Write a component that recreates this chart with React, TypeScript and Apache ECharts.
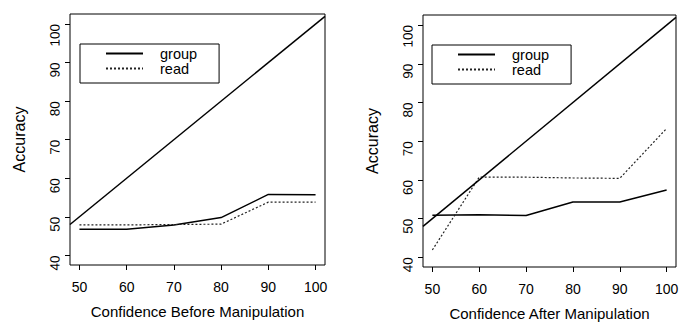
import React, { useEffect, useRef } from "react";
import * as echarts from "echarts";

const confidence = [50, 60, 70, 80, 90, 100];
const beforeGroup = [46.8, 46.8, 47.9, 49.8, 55.8, 55.7];
const beforeRead = [47.9, 47.9, 48.0, 48.1, 53.8, 53.8];
const afterGroup = [50.9, 51.0, 50.8, 54.3, 54.3, 57.4];
const afterRead = [41.9, 60.7, 60.7, 60.5, 60.4, 73.3];
const xTicks = [50, 60, 70, 80, 90, 100];
const yTicks = [40, 50, 60, 70, 80, 90, 100];
const xRange = [48, 102];
const yRange = [37.5, 102.6];
const xTitles = ["Confidence Before Manipulation", "Confidence After Manipulation"];
const yTitle = "Accuracy";
const seriesNames = ["group", "read"];

const FONT = '"Liberation Sans", Arial, Helvetica, sans-serif';

export default function App() {
  const ref = useRef<HTMLDivElement>(null);
  useEffect(() => {
    if (!ref.current) return;
    const chart = echarts.init(ref.current, null, { renderer: "svg" });
    const grids = [
      { left: 70, top: 14, width: 255, height: 251 },
      { left: 423, top: 15, width: 253, height: 252 },
    ];
    const panels = [
      { group: beforeGroup, read: beforeRead },
      { group: afterGroup, read: afterRead },
    ];
    const legendPos = [
      { left: 80, top: 44 },
      { left: 432, top: 45 },
    ];
    const toPairs = (vals: number[]) => confidence.map((x, i) => [x, vals[i]]);
    const diagonal = [
      [xRange[0], xRange[0]],
      [xRange[1], xRange[1]],
    ];
    const series: any[] = [];
    panels.forEach((p, i) => {
      series.push({
        type: "line",
        name: seriesNames[0],
        xAxisIndex: i,
        yAxisIndex: i,
        data: toPairs(p.group),
        symbol: "none",
        lineStyle: { color: "#000", width: 1.5 },
        itemStyle: { color: "#000" },
      });
      series.push({
        type: "line",
        name: seriesNames[1],
        xAxisIndex: i,
        yAxisIndex: i,
        data: toPairs(p.read),
        symbol: "none",
        lineStyle: { color: "#222", width: 1.2, type: [2, 2] },
        itemStyle: { color: "#222" },
      });
      series.push({
        type: "line",
        name: "diagonal",
        xAxisIndex: i,
        yAxisIndex: i,
        data: diagonal,
        symbol: "none",
        silent: true,
        lineStyle: { color: "#000", width: 1.5 },
      });
    });
    chart.setOption({
      animation: false,
      grid: grids.map((g) => ({
        ...g,
        show: true,
        borderColor: "#000",
        borderWidth: 1,
        backgroundColor: "transparent",
      })),
      legend: legendPos.map((lp) => ({
        ...lp,
        orient: "vertical",
        data: seriesNames,
        itemWidth: 37,
        itemHeight: 15,
        itemGap: 0,
        padding: [2, 22, 7, 25],
        borderColor: "#000",
        borderWidth: 1,
        selectedMode: false,
        itemStyle: { opacity: 0, borderWidth: 0 },
        textStyle: { fontSize: 14.5, lineHeight: 15, color: "#000", fontFamily: FONT, padding: [0, 0, 0, 12] },
      })),
      xAxis: grids.map((_, i) => ({
        type: "value",
        gridIndex: i,
        min: xRange[0],
        max: xRange[1],
        axisLine: { show: false },
        axisTick: { show: true, inside: false, length: 5, customValues: xTicks, lineStyle: { color: "#000" } },
        axisLabel: { customValues: xTicks, fontSize: 14, color: "#000", margin: 15, fontFamily: FONT },
        splitLine: { show: false },
        name: xTitles[i],
        nameLocation: "middle",
        nameGap: 39,
        nameTextStyle: { fontSize: 15, color: "#000", fontFamily: FONT },
      })),
      yAxis: grids.map((_, i) => ({
        type: "value",
        gridIndex: i,
        min: yRange[0],
        max: yRange[1],
        axisLine: { show: false },
        axisTick: { show: true, inside: false, length: 5, customValues: yTicks, lineStyle: { color: "#000" } },
        axisLabel: {
          customValues: yTicks,
          fontSize: 13.5,
          color: "#000",
          margin: 15,
          rotate: 89.9,
          fontFamily: FONT,
        },
        splitLine: { show: false },
        name: yTitle,
        nameLocation: "middle",
        nameGap: 43,
        nameRotate: 90,
        nameTextStyle: { fontSize: 16, color: "#000", fontFamily: FONT },
      })),
      series,
    });
    return () => chart.dispose();
  }, []);
  return (
    <div
      ref={ref}
      style={{ position: "absolute", left: 0, top: 0, width: 689, height: 327, background: "#fff" }}
    />
  );
}
